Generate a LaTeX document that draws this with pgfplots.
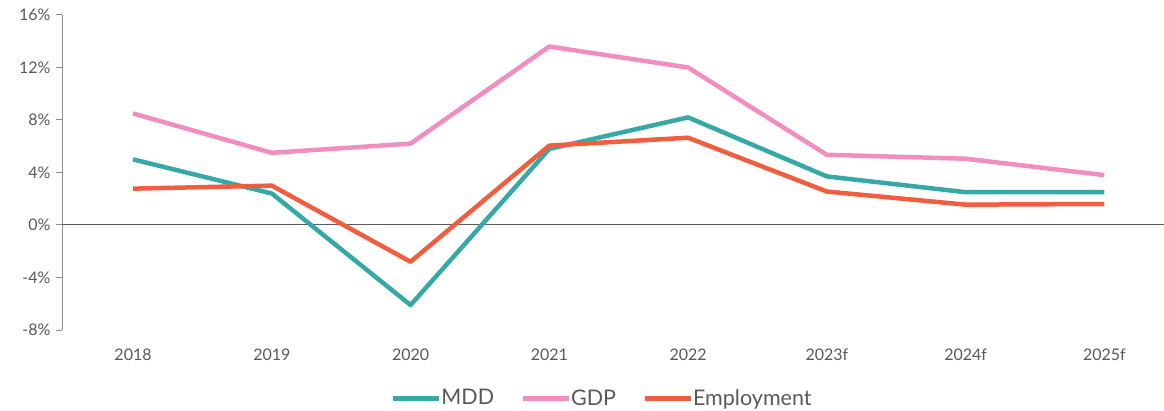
\documentclass[border=0pt]{standalone}
\usepackage{pgfplots}
\pgfplotsset{compat=1.18}
\usepackage{fontspec}
\setmainfont{Lato}
\definecolor{mdd}{HTML}{36A9A6}
\definecolor{gdp}{HTML}{F28DC0}
\definecolor{emp}{HTML}{EE5E3F}
\definecolor{txt}{HTML}{595959}
\definecolor{axg}{HTML}{8C8C8C}
\begin{document}
\begin{tikzpicture}
\path[use as bounding box] (0,0) rectangle (1164bp,411bp);
\begin{axis}[
  at={(62bp,81bp)}, anchor=south west,
  scale only axis, width=1102bp, height=315bp,
  xmin=-0.512, xmax=7.43, ymin=-8, ymax=16,
  axis x line=none,
  axis y line*=left,
  y axis line style={axg, line width=1bp, -},
  ytick={-8,-4,0,4,8,12,16},
  yticklabel={\pgfmathprintnumber{\tick}\%},
  /pgf/number format/assume math mode=true,
  yticklabel style={font=\fontsize{16bp}{18bp}\selectfont, text=txt, xshift=-2bp},
  ytick style={axg, line width=1bp},
  tick align=outside, major tick length=6bp,
  clip=false,
  legend columns=3,
  legend style={at={(0.49,-0.216)}, anchor=center, draw=none, fill=none,
    font=\fontsize{21.5bp}{23bp}\selectfont, text=txt,
    /tikz/every even column/.append style={column sep=24bp},
    /tikz/every odd column/.append style={column sep=-2bp}},
  legend image code/.code={\draw[#1, line width=5bp] (0bp,0bp) -- (46bp,0bp);},
  every axis plot/.append style={line width=4.5bp, line join=round},
]
\draw[txt, line width=1bp] (axis cs:-0.512,0) -- (axis cs:7.43,0);
\addplot[mdd, mark=none] coordinates {(0,5.0) (1,2.4) (2,-6.1) (3,5.8) (4,8.2) (5,3.7) (6,2.5) (7,2.5)};
\addlegendentry{MDD}
\addplot[gdp, mark=none] coordinates {(0,8.5) (1,5.5) (2,6.2) (3,13.6) (4,12.0) (5,5.35) (6,5.05) (7,3.8)};
\addlegendentry{GDP}
\addplot[emp, mark=none] coordinates {(0,2.77) (1,3.0) (2,-2.8) (3,6.05) (4,6.65) (5,2.55) (6,1.55) (7,1.6)};
\addlegendentry{Employment}
\foreach \i/\lab in {0/2018,1/2019,2/2020,3/2021,4/2022,5/2023f,6/2024f,7/2025f}{
  \edef\tmp{\noexpand\node[text=txt, font=\noexpand\fontsize{16bp}{18bp}\noexpand\selectfont] at (axis cs:\i,-8) [yshift=-25bp] {\lab};}
  \tmp
}
\end{axis}
\end{tikzpicture}
\end{document}
